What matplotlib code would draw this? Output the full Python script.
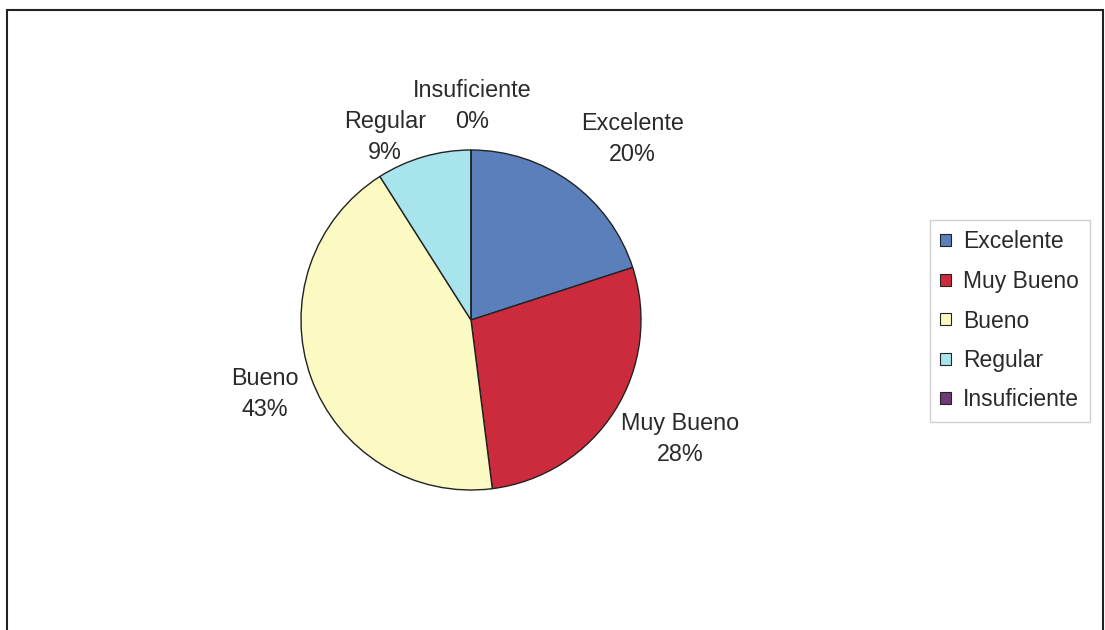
import matplotlib.pyplot as plt
from matplotlib.patches import Patch, Rectangle

plt.rcParams['font.family'] = ['Liberation Sans', 'DejaVu Sans']

categorias = ["Excelente", "Muy Bueno", "Bueno", "Regular", "Insuficiente"]
porcentajes = [20, 28, 43, 9, 0]
colores = ["#5B7FBB", "#CC2B3D", "#FAFAC2", "#A8E4EC", "#6C3A78"]

# posiciones de las etiquetas (unidades del radio)
pos_etiquetas = [(0.95, 1.065), (1.23, -0.70), (-1.21, -0.435), (-0.505, 1.075), (0.005, 1.26)]

fig = plt.figure(figsize=(11.05, 6.3), dpi=100)
fig.patches.append(Rectangle((7 / 1105, -0.01), 1096 / 1105, 1 - 10 / 630 + 0.01,
                             transform=fig.transFigure, fill=False,
                             edgecolor="#222222", linewidth=1.5))

ax = fig.add_axes([(471 - 170) / 1105, (630 - 490) / 630, 340 / 1105, 340 / 630])
wedges, _ = ax.pie(porcentajes, colors=colores, startangle=90, counterclock=False,
                   radius=1, wedgeprops=dict(edgecolor="#222222", linewidth=1))
ax.set_xlim(-1, 1)
ax.set_ylim(-1, 1)
ax.set_aspect("equal")

for nombre, valor, (x, y) in zip(categorias, porcentajes, pos_etiquetas):
    ax.text(x, y, f"{nombre}\n{valor}%", ha="center", va="center", fontsize=16.8,
            linespacing=1.42, color="#2a2a2a", clip_on=False)

handles = [Patch(facecolor=c, edgecolor="#222222", linewidth=0.8) for c in colores]
leg = fig.legend(handles, categorias, loc="center left",
                 bbox_to_anchor=(930 / 1105, 1 - 321 / 630), fontsize=16.5,
                 frameon=True, fancybox=False, handlelength=0.45, handleheight=0.45,
                 handletextpad=0.55, labelspacing=0.72, borderpad=0.45,
                 borderaxespad=0)
for t in leg.get_texts():
    t.set_color("#2a2a2a")
leg.get_frame().set_edgecolor("#c4c4c4")
leg.get_frame().set_linewidth(1)

fig.savefig("out.png", dpi=100)
